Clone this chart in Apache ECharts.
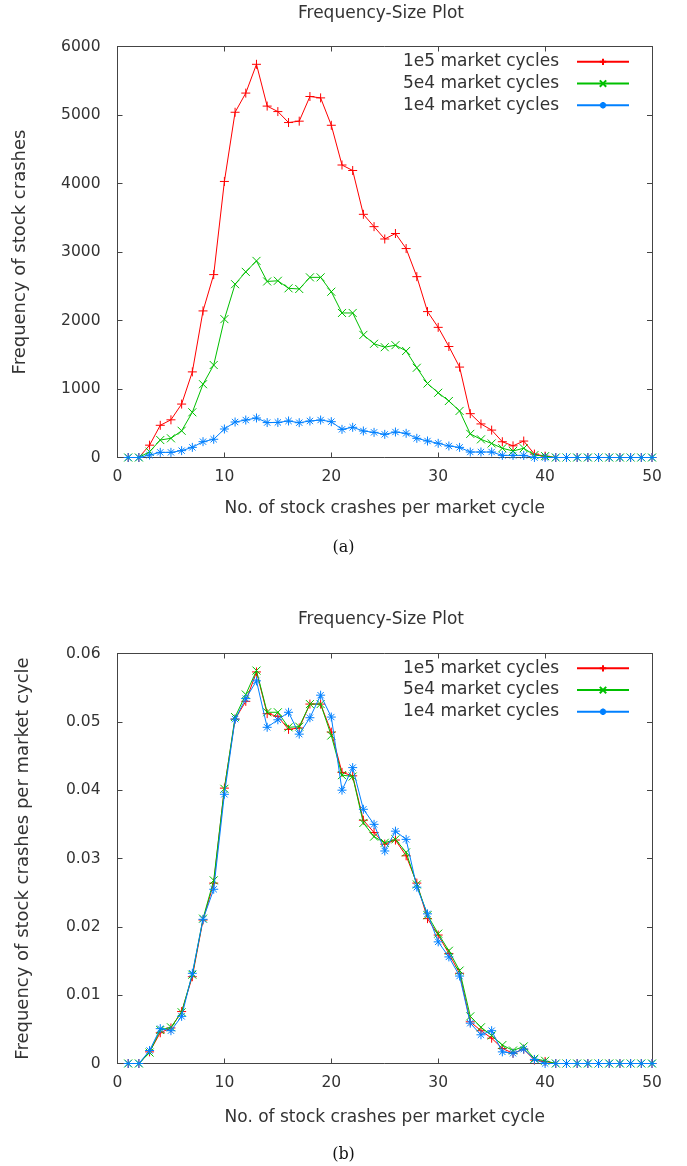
<!DOCTYPE html>
<html>
<head>
<meta charset="utf-8">
<script src="https://cdn.jsdelivr.net/npm/echarts@6/dist/echarts.min.js"></script>
<style>
html,body{margin:0;padding:0;background:#fff;}
#chart{width:687px;height:1166px;}
</style>
</head>
<body>
<div id="chart"></div>
<script>
// ---- data ----
const crashSizes = [1,2,3,4,5,6,7,8,9,10,11,12,13,14,15,16,17,18,19,20,21,22,23,24,25,26,27,28,29,30,31,32,33,34,35,36,37,38,39,40,41,42,43,44,45,46,47,48,49,50];
const seriesNames = ['1e5 market cycles', '5e4 market cycles', '1e4 market cycles'];

// (a) raw frequencies
const freq1e5 = [0,0,180,470,550,780,1250,2140,2670,4030,5040,5320,5740,5130,5050,4890,4910,5270,5250,4850,4270,4190,3550,3370,3190,3270,3050,2640,2130,1900,1620,1320,640,490,400,230,170,240,50,20,0,0,0,0,0,0,0,0,0,0];
const freq5e4 = [0,0,85,255,280,390,660,1070,1350,2020,2530,2710,2870,2570,2580,2470,2460,2630,2630,2420,2110,2110,1790,1660,1610,1640,1555,1310,1080,945,825,680,345,265,205,135,95,135,35,20,0,0,0,0,0,0,0,0,0,0];
const freq1e4 = [0,0,36,75,75,100,148,231,266,416,518,547,577,510,512,533,508,533,547,523,411,441,387,367,338,372,353,280,241,207,168,148,80,80,80,31,31,31,0,0,0,0,0,0,0,0,0,0,0,0];

// (b) frequencies per market cycle
const norm1e5 = [0,0,0.0017,0.0045,0.0052,0.0076,0.0127,0.0210,0.0264,0.0403,0.0504,0.0530,0.0573,0.0512,0.0508,0.0489,0.0491,0.0526,0.0526,0.0485,0.0426,0.0421,0.0356,0.0338,0.0321,0.0327,0.0304,0.0264,0.0212,0.0188,0.0161,0.0132,0.0061,0.0048,0.0037,0.0022,0.0015,0.0021,0.0005,0.0003,0,0,0,0,0,0,0,0,0,0];
const norm5e4 = [0,0,0.0016,0.0049,0.0053,0.0075,0.0130,0.0212,0.0268,0.0402,0.0507,0.0540,0.0575,0.0514,0.0514,0.0492,0.0493,0.0526,0.0526,0.0480,0.0422,0.0420,0.0352,0.0332,0.0323,0.0328,0.0309,0.0262,0.0217,0.0190,0.0165,0.0136,0.0069,0.0053,0.0041,0.0027,0.0019,0.0025,0.0007,0.0004,0,0,0,0,0,0,0,0,0,0];
const norm1e4 = [0,0,0.0019,0.0051,0.0048,0.0069,0.0132,0.0211,0.0255,0.0394,0.0504,0.0534,0.0560,0.0492,0.0503,0.0514,0.0482,0.0506,0.0539,0.0507,0.0400,0.0433,0.0372,0.0350,0.0311,0.0340,0.0328,0.0258,0.0219,0.0178,0.0156,0.0128,0.0059,0.0042,0.0048,0.0017,0.0015,0.0021,0.0006,0,0,0,0,0,0,0,0,0,0,0];

const xTicks = [0,10,20,30,40,50];
const yTicksA = [0,1000,2000,3000,4000,5000,6000];
const yTicksB = [0,0.01,0.02,0.03,0.04,0.05,0.06];

const plotTitle = 'Frequency-Size Plot';
const xTitle = 'No. of stock crashes per market cycle';
const yTitleA = 'Frequency of stock crashes';
const yTitleB = 'Frequency of stock crashes per market cycle';
const captions = ['(a)', '(b)'];

// ---- styling ----
const FONT = 'DejaVu Sans';
const TXT = '#333';
const AX = '#444';
const colors = ['#ff0000', '#00c000', '#0080ff'];
const symbols = [
  'path://M5 0L5 10M0 5L10 5',
  'path://M0 0L10 10M0 10L10 0',
  'path://M5 0L5 10M0 5L10 5M1.5 1.5L8.5 8.5M1.5 8.5L8.5 1.5'
];
const symSizes = [9, 8, 9];

function pairs(vals){ return crashSizes.map((x,i)=>[x, vals[i]]); }

const GL = 117.5, GR = 35;
const grids = [
  {left: GL, right: GR, top: 46.5, height: 411, containLabel: false},
  {left: GL, right: GR, top: 653.5, height: 410, containLabel: false}
];

function xAxes(gi, gap){
  const base = {
    gridIndex: gi, type: 'value', min: xTicks[0], max: xTicks[xTicks.length-1], interval: 10,
    splitLine: {show: false},
    axisLine: {show: true, onZero: false, lineStyle: {color: AX, width: 1}},
    axisTick: {show: true, inside: true, length: 5, lineStyle: {color: AX}}
  };
  return [
    Object.assign({}, base, {
      position: 'bottom',
      axisLabel: {show: true, margin: 11, color: TXT, fontFamily: FONT, fontSize: 15.5, formatter: v => String(v)},
      name: xTitle, nameLocation: 'middle', nameGap: gap,
      nameTextStyle: {color: TXT, fontFamily: FONT, fontSize: 17}
    }),
    Object.assign({}, base, {position: 'top', axisLabel: {show: false}})
  ];
}
function yAxes(gi, ticks, fmt, name, gap){
  const base = {
    gridIndex: gi, type: 'value', min: ticks[0], max: ticks[ticks.length-1], interval: ticks[1]-ticks[0],
    splitLine: {show: false},
    axisLine: {show: true, onZero: false, lineStyle: {color: AX, width: 1}},
    axisTick: {show: true, inside: true, length: 5, lineStyle: {color: AX}}
  };
  return [
    Object.assign({}, base, {
      position: 'left',
      axisLabel: {show: true, margin: 17, color: TXT, fontFamily: FONT, fontSize: 15.5, formatter: fmt},
      name: name, nameLocation: 'middle', nameGap: gap, nameRotate: 90,
      nameTextStyle: {color: TXT, fontFamily: FONT, fontSize: 18}
    }),
    Object.assign({}, base, {position: 'right', axisLabel: {show: false}})
  ];
}

const xA = xAxes(0, 43), xB = xAxes(1, 46);
const yA = yAxes(0, yTicksA, v => String(v), yTitleA, 88.5);
const yB = yAxes(1, yTicksB, v => v === 0 ? '0' : v.toFixed(2), yTitleB, 85.5);

function mkSeries(vals, k, xi, yi){
  return {
    name: seriesNames[k], type: 'line', xAxisIndex: xi, yAxisIndex: yi,
    data: pairs(vals),
    symbol: symbols[k], symbolSize: symSizes[k], showAllSymbol: true,
    lineStyle: {color: colors[k], width: 1},
    itemStyle: {color: colors[k], borderColor: colors[k], borderWidth: 1},
    emphasis: {disabled: true},
    z: 2 + k
  };
}

function legend(top){
  return {
    data: seriesNames, orient: 'vertical', align: 'right',
    right: 57, top: top, itemWidth: 52, itemHeight: 8, itemGap: 0, padding: 0,
    textStyle: {color: TXT, fontFamily: FONT, fontSize: 17, lineHeight: 21.7, padding: [0, 13, 0, 0]},
    selectedMode: false
  };
}

function txt(text, x, y, size, family, color){
  return {type: 'text', x: x, y: y, silent: true,
    style: {text: text, fill: color, font: size + 'px "' + family + '"', textAlign: 'center', textVerticalAlign: 'middle'}};
}

const option = {
  animation: false,
  backgroundColor: '#fff',
  graphic: [
    txt(plotTitle, 381, 14, 17, FONT, TXT),
    txt(plotTitle, 381, 620, 17, FONT, TXT),
    txt(captions[0], 343.5, 548, 16, 'DejaVu Serif', '#111'),
    txt(captions[1], 343.5, 1155, 16, 'DejaVu Serif', '#111')
  ],
  legend: [legend(51), legend(657.5)],
  grid: grids,
  xAxis: [xA[0], xA[1], xB[0], xB[1]],
  yAxis: [yA[0], yA[1], yB[0], yB[1]],
  series: [
    mkSeries(freq1e5, 0, 0, 0),
    mkSeries(freq5e4, 1, 0, 0),
    mkSeries(freq1e4, 2, 0, 0),
    mkSeries(norm1e5, 0, 2, 2),
    mkSeries(norm5e4, 1, 2, 2),
    mkSeries(norm1e4, 2, 2, 2)
  ]
};
const chart = echarts.init(document.getElementById('chart'), null, {renderer: 'canvas'});
chart.setOption(option);
</script>
</body>
</html>
